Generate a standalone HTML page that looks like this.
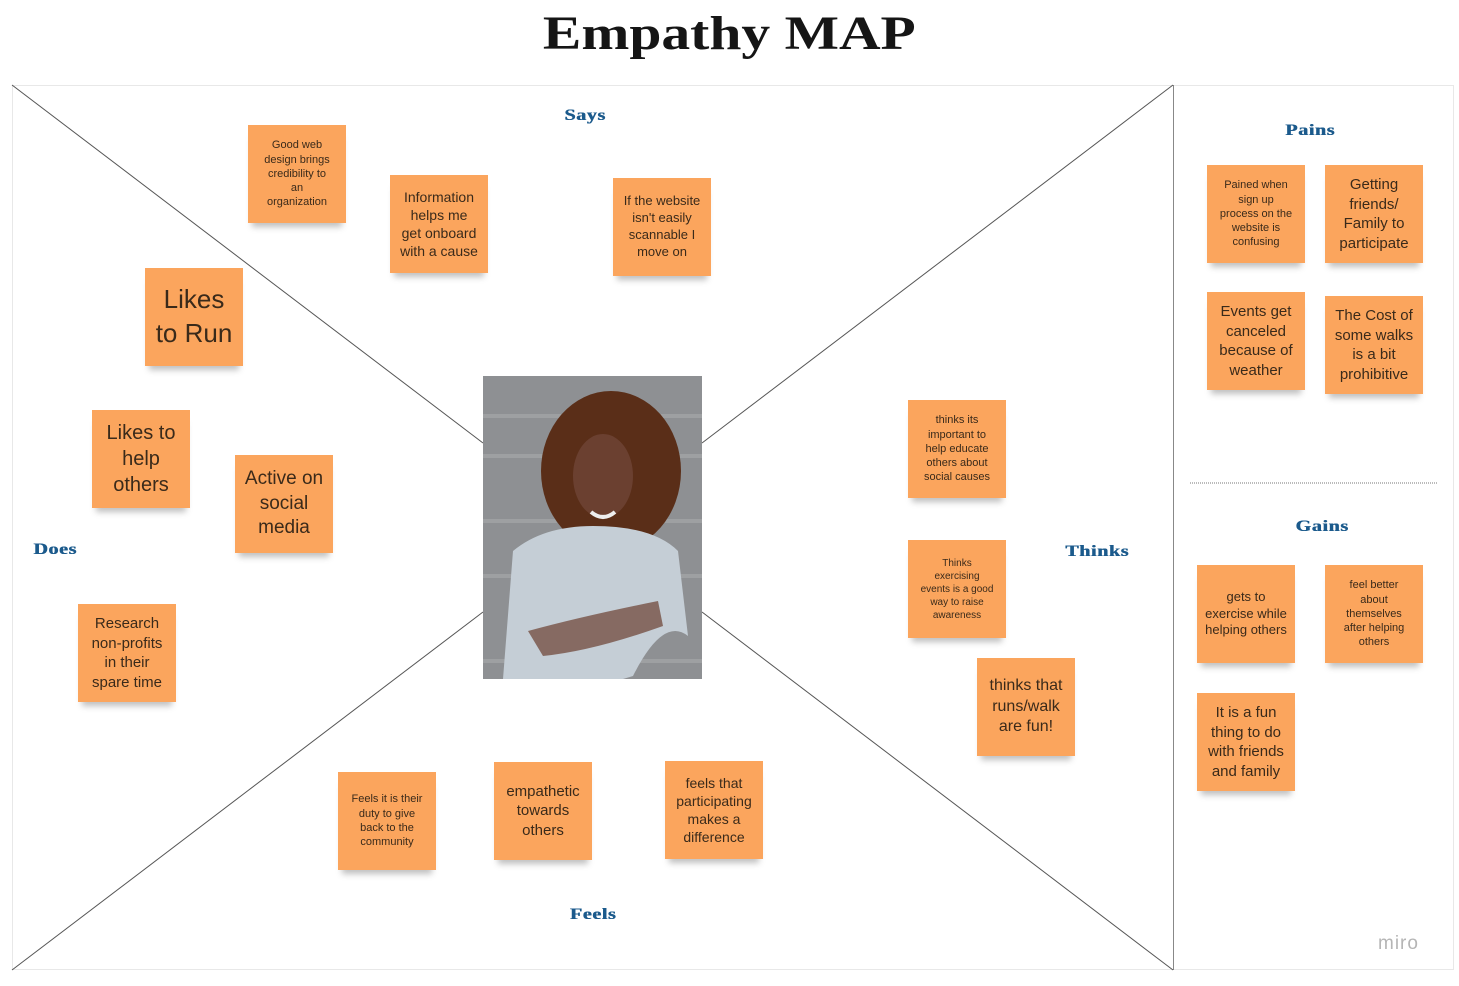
<!DOCTYPE html>
<html><head><meta charset="utf-8"><style>
body{margin:0;width:1459px;height:986px;background:#fff;position:relative;overflow:hidden;font-family:"Liberation Sans",sans-serif}
.t{position:absolute;left:0;width:1459px;top:6px;text-align:center;font-family:"Liberation Serif",serif;font-weight:900;font-size:48px;color:#151515}
.t span{display:inline-block;transform:scaleX(1.2);letter-spacing:0px}
.s{position:absolute;width:98px;height:98px;background:#fba55d;color:#3a2a1a;display:flex;align-items:center;justify-content:center;text-align:center;line-height:1.3;box-shadow:0 8px 6px -4px rgba(0,0,0,.25);padding:4px 10px;box-sizing:border-box}
.l{position:absolute;font-family:"Liberation Serif",serif;font-weight:900;color:#1b5a8c;font-size:16px;transform:translate(-50%,-50%) scaleX(1.25);letter-spacing:.5px;text-shadow:0.5px 0 0 #1b5a8c}
</style></head><body>
<div class="t"><span>Empathy MAP</span></div>
<svg style="position:absolute;left:0;top:0" width="1459" height="986">
<rect x="12.5" y="85.5" width="1441" height="884" fill="none" stroke="#e8e8e8"/>
<line x1="1173.5" y1="85" x2="1173.5" y2="970" stroke="#888"/>
<g stroke="#555" stroke-width="1">
<line x1="12" y1="85" x2="483" y2="443"/>
<line x1="1173" y1="85" x2="702" y2="443"/>
<line x1="12" y1="970" x2="483" y2="612"/>
<line x1="1173" y1="970" x2="702" y2="612"/>
</g>
<line x1="1190" y1="483" x2="1437" y2="483" stroke="#777" stroke-dasharray="1 1"/>
<g transform="translate(483,376)">
<rect width="219" height="303" fill="#8e9093"/>
<g stroke="#a9abad" stroke-width="4" opacity=".6"><line x1="0" y1="40" x2="219" y2="40"/><line x1="0" y1="80" x2="219" y2="80"/><line x1="0" y1="145" x2="219" y2="145"/><line x1="0" y1="200" x2="219" y2="200"/><line x1="0" y1="285" x2="219" y2="285"/></g>
<ellipse cx="128" cy="95" rx="70" ry="80" fill="#5a2e18"/>
<ellipse cx="120" cy="100" rx="30" ry="42" fill="#6b4030"/>
<path d="M108 136 Q120 146 132 136" stroke="#eee" stroke-width="4" fill="none"/>
<path d="M20 303 L30 175 Q60 150 110 150 Q170 150 195 175 L205 260 Q180 240 150 300 L140 303 Z" fill="#c5ced6"/>
<path d="M45 255 Q100 240 175 225 L180 250 Q110 275 60 280 Z" fill="#6b4030" opacity=".7"/>
</g>
</svg>
<div class="l" style="left:585px;top:116px">Says</div>
<div class="l" style="left:1310px;top:131px">Pains</div>
<div class="l" style="left:55px;top:550px">Does</div>
<div class="l" style="left:1097px;top:552px">Thinks</div>
<div class="l" style="left:593px;top:915px">Feels</div>
<div class="l" style="left:1322px;top:527px">Gains</div>
<div class="s" style="left:248px;top:125px;font-size:11px;padding:4px 13px">Good web design brings credibility to an organization</div>
<div class="s" style="left:390px;top:175px;font-size:14px">Information helps me get onboard with a cause</div>
<div class="s" style="left:613px;top:178px;font-size:13px">If the website isn't easily scannable I move on</div>
<div class="s" style="left:145px;top:268px;font-size:26px">Likes to Run</div>
<div class="s" style="left:92px;top:410px;font-size:20px">Likes to help others</div>
<div class="s" style="left:235px;top:455px;font-size:19px;padding:4px 6px">Active on social media</div>
<div class="s" style="left:78px;top:604px;font-size:15px;padding:4px 8px">Research non-profits in their spare time</div>
<div class="s" style="left:908px;top:400px;font-size:11px;padding:4px 12px">thinks its important to help educate others about social causes</div>
<div class="s" style="left:908px;top:540px;font-size:10px;padding:4px 12px">Thinks exercising events is a good way to raise awareness</div>
<div class="s" style="left:977px;top:658px;font-size:16px">thinks that runs/walk are fun!</div>
<div class="s" style="left:338px;top:772px;font-size:11px;padding:4px 12px">Feels it is their duty to give back to the community</div>
<div class="s" style="left:494px;top:762px;font-size:15px;padding:4px 6px">empathetic towards others</div>
<div class="s" style="left:665px;top:761px;font-size:14px;padding:4px 6px">feels that participating makes a difference</div>
<div class="s" style="left:1207px;top:165px;font-size:11px;padding:4px 12px">Pained when sign up process on the website is confusing</div>
<div class="s" style="left:1325px;top:165px;font-size:15px">Getting friends/ Family to participate</div>
<div class="s" style="left:1207px;top:292px;font-size:15px;padding:4px 6px">Events get canceled because of weather</div>
<div class="s" style="left:1325px;top:296px;font-size:15px;padding:4px 6px">The Cost of some walks is a bit prohibitive</div>
<div class="s" style="left:1197px;top:565px;font-size:13px;padding:4px 8px">gets to exercise while helping others</div>
<div class="s" style="left:1325px;top:565px;font-size:11px;padding:4px 12px">feel better about themselves after helping others</div>
<div class="s" style="left:1197px;top:693px;font-size:15px;padding:4px 8px">It is a fun thing to do with friends and family</div>
<div style="position:absolute;left:1378px;top:933px;font-size:19px;color:#b5b5b5;letter-spacing:1px">miro</div>
</body></html>
